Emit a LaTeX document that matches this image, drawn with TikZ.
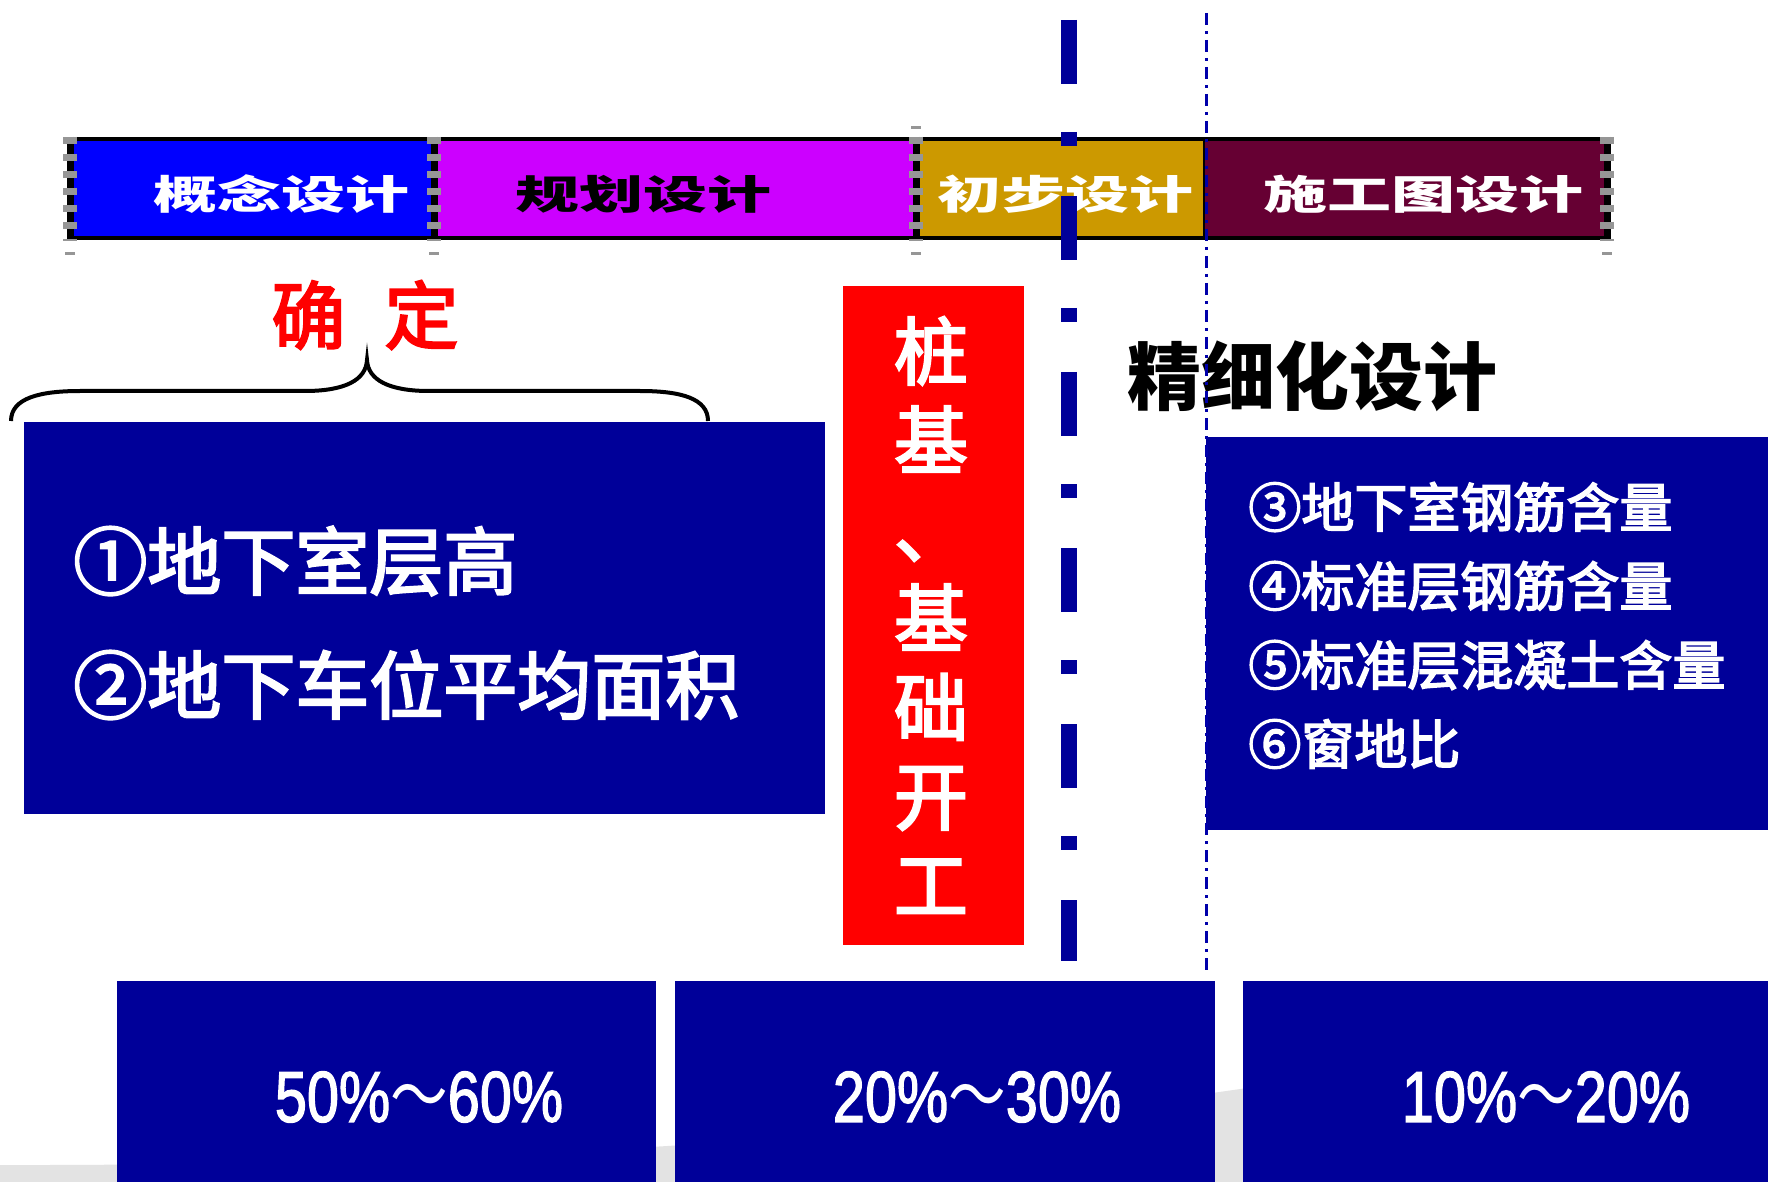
\documentclass[tikz,border=0pt]{standalone}
\usepackage{fontspec}
\usepackage{graphicx}
\newfontfamily\cjk{Noto Sans CJK SC}
\newfontfamily\cjkmed[FakeBold=3]{Noto Sans CJK SC}
\newfontfamily\arialfont[FakeBold=2]{Liberation Sans}
\definecolor{dkblue}{RGB}{0,0,153}
\definecolor{lineblue}{RGB}{0,0,170}
\definecolor{barblue}{RGB}{0,0,255}
\definecolor{barpurple}{RGB}{204,0,255}
\definecolor{bargold}{RGB}{204,153,0}
\definecolor{barmaroon}{RGB}{102,0,51}
\definecolor{handlegray}{RGB}{150,150,150}
\definecolor{bggray}{RGB}{227,227,227}
\newcommand{\barlabel}[1]{\scalebox{1.6}[1]{#1}}
\newcommand{\pct}[2]{\scalebox{0.8}[1]{{\arialfont #1\%}{\cjk ～}{\arialfont #2\%}}}
\begin{document}
\begin{tikzpicture}[x=0.5pt,y=-0.5pt,
  bartext/.style={inner sep=0pt, font=\fontsize{20pt}{24pt}\selectfont\cjk\bfseries},
  bigtext/.style={inner sep=0pt, text=white, font=\fontsize{37pt}{44pt}\selectfont\cjkmed},
  midtext/.style={inner sep=0pt, text=white, font=\fontsize{26.5pt}{32pt}\selectfont\cjkmed},
  pcttext/.style={inner sep=0pt, text=white, font=\fontsize{36pt}{40pt}\selectfont},
  handle/.style={line width=3.5pt},
  handledash/.style={handlegray, line width=7pt, dash pattern=on 3.5pt off 5pt},
  tick/.style={handlegray, line width=1.5pt}]
\useasboundingbox (0,0) rectangle (1768,1182);

% background wave
\fill[bggray] (0,1165) .. controls (500,1166) and (950,1135) .. (1300,1080) -- (1768,1000) -- (1768,1182) -- (0,1182) -- cycle;

% timeline bar
\fill[barblue] (68,139) rectangle (434,238);
\fill[barpurple] (434,139) rectangle (916,238);
\fill[bargold] (916,139) rectangle (1204,238);
\fill[barmaroon] (1204,139) rectangle (1607,238);
\draw[line width=1.6pt] (68,139) -- (1607,139);
\draw[line width=1.6pt] (68,238) -- (1607,238);
\draw[line width=1.2pt] (1204,139) -- (1204,238);
\foreach \hx in {70,434,916,1607} {
  \draw[handle] (\hx,137) -- (\hx,241);
  \draw[handledash] (\hx,137) -- (\hx,241);
  \draw[tick] (\hx-5,254) -- (\hx+5,254);
}
\draw[tick] (911,128) -- (921,128);

\node[bartext, text=white] (t1) at (281,194) {\barlabel{概念设计}};
\node[bartext, text=black] (t2) at (643,194) {\barlabel{规划设计}};
\node[bartext, text=white] (t3) at (1065,194) {\barlabel{初步设计}};
\node[bartext, text=white] (t4) at (1423,194) {\barlabel{施工图设计}};

% determine label and brace
\node[inner sep=0pt, text=red, font=\fontsize{37pt}{44pt}\selectfont\cjkmed] (qd) at (365,315) {确\hspace{19.5pt}定};
\draw[line width=2pt] (11,421) .. controls (11,398) and (40,391) .. (80,391) -- (305,391)
  .. controls (345,391) and (366,380) .. (367,360)
  .. controls (368,380) and (389,391) .. (429,391) -- (640,391)
  .. controls (680,391) and (708,398) .. (708,421);

% left box
\fill[dkblue] (24,422) rectangle (825,814);
\node[bigtext, anchor=west] (l1) at (73,561) {①地下室层高};
\node[bigtext, anchor=west] (l2) at (73,685) {②地下车位平均面积};

% red box
\fill[red] (843,286) rectangle (1024,945);
\node[inner sep=0pt, text=white, align=center, font=\fontsize{37pt}{44.5pt}\selectfont\cjkmed] (vt) at (931,615) {桩\\基\\、\\基\\础\\开\\工};

% fine design label
\node[inner sep=0pt, text=black, font=\fontsize{37pt}{44pt}\selectfont\cjk\bfseries] (fd) at (1312,376) {精细化设计};

% right box
\fill[dkblue] (1206,437) rectangle (1768,830);
\node[midtext, anchor=west] (r1) at (1248,507) {③地下室钢筋含量};
\node[midtext, anchor=west] (r2) at (1248,586) {④标准层钢筋含量};
\node[midtext, anchor=west] (r3) at (1248,665) {⑤标准层混凝土含量};
\node[midtext, anchor=west] (r4) at (1248,744) {⑥窗地比};

% bottom boxes
\fill[dkblue] (117,981) rectangle (656,1182);
\fill[dkblue] (675,981) rectangle (1215,1182);
\fill[dkblue] (1243,981) rectangle (1768,1182);
\node[pcttext] (p1) at (419,1097) {\pct{50}{60}};
\node[pcttext] (p2) at (977,1097) {\pct{20}{30}};
\node[pcttext] (p3) at (1546,1097) {\pct{10}{20}};

% vertical dash-dot lines
\draw[dkblue, line width=8pt, dash pattern=on 32pt off 24pt on 7pt off 25pt] (1069,20) -- (1069,961);
\draw[lineblue, line width=1.5pt, dash pattern=on 6pt off 3pt on 1.5pt off 3pt] (1206,13) -- (1206,972);
\end{tikzpicture}
\end{document}
